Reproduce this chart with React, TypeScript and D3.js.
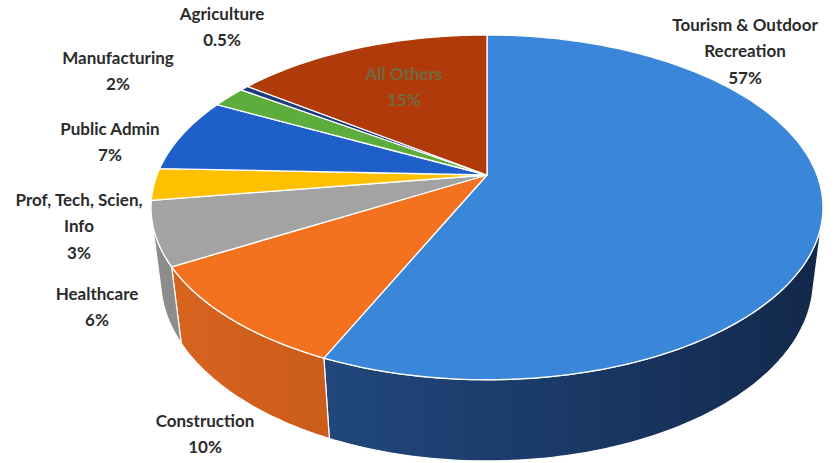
import React from "react";
import * as d3 from "d3";

// ---- data ----
const categories = [
  "Tourism & Outdoor\nRecreation",
  "Construction",
  "Healthcare",
  "Prof, Tech, Scien,\nInfo",
  "Public Admin",
  "Manufacturing",
  "Agriculture",
  "All Others",
];
const shares = [57, 10, 6, 3, 7, 2, 0.5, 15];
const shareLabels = ["57%", "10%", "6%", "3%", "7%", "2%", "0.5%", "15%"];

// ---- styles ----
const topColors = ["#3a87da", "#f4721f", "#a3a3a3", "#ffc000", "#1f5fc9", "#5dad3d", "#1f3c7c", "#b13a0b"];
const sideColors = ["url(#tourSide)", "url(#consSide)", "#8c8c8c", "#d9a300", "#17468f", "#4a8a30", "#172d5c", "#8a2d08"];

// label anchor layout (center x, first line center y)
const labelLayout = [
  { x: 745, y: 25, color: "#2b2b2b", weight: 700, size: 17 },
  { x: 205, y: 421, color: "#2b2b2b", weight: 700, size: 17 },
  { x: 97, y: 294, color: "#2b2b2b", weight: 700, size: 17 },
  { x: 79, y: 200, color: "#2b2b2b", weight: 700, size: 17 },
  { x: 110, y: 129, color: "#2b2b2b", weight: 700, size: 17 },
  { x: 118, y: 58, color: "#2b2b2b", weight: 700, size: 17 },
  { x: 222, y: 14, color: "#2b2b2b", weight: 700, size: 17 },
  { x: 404, y: 74, color: "#6f6a40", weight: 700, size: 17 },
];
const LINE_H = 26.5;

// ---- geometry ----
const W = 836, H = 463;
const CX = 487, CY = 175, K = 330;
const S = 0.504, C = Math.sqrt(1 - S * S), DD = 4.6, THICK = 0.26;

function proj(theta: number, r: number, h: number): [number, number] {
  const u = r * Math.sin(theta);
  const v = r * Math.cos(theta);
  const w = 1 + (v * C - h * S) / DD;
  return [CX + (K * u) / w, CY - (K * (v * S + h * C)) / w];
}

const visLimit = Math.acos(-1 / (DD * C));
const visMin = visLimit, visMax = 2 * Math.PI - visLimit;

function sample(a0: number, a1: number, h: number) {
  const n = Math.max(2, Math.ceil(((a1 - a0) * 180) / Math.PI));
  return d3.range(n + 1).map((i) => proj(a0 + ((a1 - a0) * i) / n, 1, h));
}

export default function App() {
  const arcs = d3.pie<number>().sort(null).startAngle(0).endAngle(2 * Math.PI)(shares);
  const line = d3.line().curve(d3.curveLinearClosed);

  const walls = arcs
    .map((a, i) => {
      const a0 = Math.max(a.startAngle, visMin);
      const a1 = Math.min(a.endAngle, visMax);
      if (a1 <= a0) return null;
      const top = sample(a0, a1, 0);
      const bot = sample(a0, a1, -THICK).reverse();
      return <path key={"w" + i} d={line([...top, ...bot]) || ""} fill={sideColors[i]} stroke="#ffffff" strokeWidth={1.2} strokeLinejoin="round" />;
    })
    .filter(Boolean);

  const tops = arcs.map((a, i) => {
    const pts = [proj(0, 0, 0), ...sample(a.startAngle, a.endAngle, 0)];
    return <path key={"t" + i} d={line(pts) || ""} fill={topColors[i]} stroke="#ffffff" strokeWidth={1.3} strokeLinejoin="round" />;
  });

  const labels = categories.map((c, i) => {
    const L = labelLayout[i];
    const lines = [...c.split("\n"), shareLabels[i]];
    return (
      <text key={"l" + i} textAnchor="middle" fill={L.color} fontWeight={L.weight} fontSize={L.size} fontFamily="Lato, 'Open Sans', sans-serif">
        {lines.map((t, j) => (
          <tspan key={j} x={L.x} y={L.y + j * LINE_H} dy="0.35em">{t}</tspan>
        ))}
      </text>
    );
  });

  return (
    <svg width={W} height={H} style={{ position: "absolute", left: 0, top: 0, background: "#ffffff" }}>
      <defs>
        <linearGradient id="tourSide" gradientUnits="userSpaceOnUse" x1={322} y1={0} x2={822} y2={0}>
          <stop offset="0" stopColor="#21477c" />
          <stop offset="0.5" stopColor="#1a3966" />
          <stop offset="1" stopColor="#12284a" />
        </linearGradient>
        <linearGradient id="consSide" gradientUnits="userSpaceOnUse" x1={160} y1={0} x2={322} y2={0}>
          <stop offset="0" stopColor="#d8641f" />
          <stop offset="1" stopColor="#cc5c1a" />
        </linearGradient>
      </defs>
      <rect width={W} height={H} fill="#ffffff" />
      <g>{walls}</g>
      <g>{tops}</g>
      <g>{labels}</g>
    </svg>
  );
}
